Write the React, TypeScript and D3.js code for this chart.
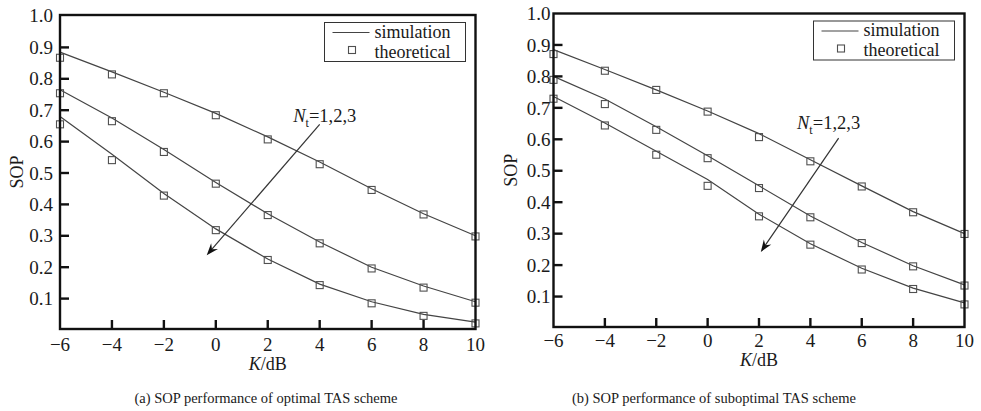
import React, { useEffect, useRef } from 'react';
import * as d3 from 'd3';

// K/dB values shared by every curve
const kValues = [-6, -4, -2, 0, 2, 4, 6, 8, 10];
const xTickValues = [-6, -4, -2, 0, 2, 4, 6, 8, 10];
const yTickValues = [0.1, 0.2, 0.3, 0.4, 0.5, 0.6, 0.7, 0.8, 0.9, 1.0];

// (a) optimal TAS, Nt = 1,2,3
const simA1 = [0.885, 0.822, 0.757, 0.69, 0.615, 0.535, 0.45, 0.37, 0.3];
const theoA1 = [0.867, 0.814, 0.754, 0.684, 0.607, 0.528, 0.446, 0.368, 0.298];
const simA2 = [0.765, 0.675, 0.575, 0.47, 0.37, 0.28, 0.2, 0.14, 0.09];
const theoA2 = [0.754, 0.665, 0.567, 0.466, 0.366, 0.276, 0.196, 0.135, 0.087];
const simA3 = [0.68, 0.56, 0.435, 0.322, 0.226, 0.146, 0.09, 0.05, 0.025];
const theoA3 = [0.655, 0.541, 0.428, 0.318, 0.223, 0.143, 0.085, 0.045, 0.021];

// (b) suboptimal TAS, Nt = 1,2,3
const simB1 = [0.885, 0.822, 0.757, 0.69, 0.618, 0.535, 0.452, 0.37, 0.3];
const theoB1 = [0.871, 0.818, 0.757, 0.688, 0.607, 0.53, 0.45, 0.368, 0.299];
const simB2 = [0.8, 0.728, 0.64, 0.548, 0.452, 0.356, 0.272, 0.198, 0.137];
const theoB2 = [0.789, 0.712, 0.63, 0.54, 0.445, 0.352, 0.27, 0.196, 0.135];
const simB3 = [0.736, 0.652, 0.562, 0.472, 0.362, 0.268, 0.19, 0.127, 0.08];
const theoB3 = [0.729, 0.644, 0.551, 0.452, 0.355, 0.265, 0.186, 0.124, 0.075];

const serif = "'Liberation Serif', 'Times New Roman', serif";

const panels = [
  {
    left: 60,
    right: 475.5,
    top: 15,
    bottom: 329,
    yRange: [330, 16],
    yLabelGap: 7,
    xLabelDy: 22,
    sim: [simA1, simA2, simA3],
    theo: [theoA1, theoA2, theoA3],
    arrowFrom: [4.0, 0.655],
    arrowTo: [-0.35, 0.238],
    note: [2.98, 0.664],
    ylabelX: 23,
    xlabelY: 370,
    caption: '(a) SOP performance of optimal TAS scheme',
    captionX: 266,
  },
  {
    left: 553.5,
    right: 964.5,
    top: 13.5,
    bottom: 327,
    yRange: [328, 13.5],
    yLabelGap: 3,
    xLabelDy: 20,
    sim: [simB1, simB2, simB3],
    theo: [theoB1, theoB2, theoB3],
    arrowFrom: [5.1, 0.604],
    arrowTo: [2.07, 0.242],
    note: [3.48, 0.633],
    ylabelX: 517,
    xlabelY: 366,
    caption: '(b) SOP performance of suboptimal TAS scheme',
    captionX: 714,
  },
];

const addText = (sel, size) =>
  sel
    .append('text')
    .style('font-family', serif)
    .style('font-size', `${size}px`)
    .attr('fill', '#1a1a1a');

const drawPanel = (svg, p) => {
  const x = d3.scaleLinear().domain([-6, 10]).range([p.left, p.right]);
  const y = d3.scaleLinear().domain([0, 1]).range(p.yRange);
  const g = svg.append('g');

  // curves
  const line = d3
    .line()
    .x((d) => x(d[0]))
    .y((d) => y(d[1]));
  p.sim.forEach((series) => {
    g.append('path')
      .attr('d', line(kValues.map((k, i) => [k, series[i]])))
      .attr('fill', 'none')
      .attr('stroke', '#444')
      .attr('stroke-width', 1.2);
  });
  p.theo.forEach((series) => {
    g.selectAll(null)
      .data(kValues.map((k, i) => [k, series[i]]))
      .enter()
      .append('rect')
      .attr('x', (d) => x(d[0]) - 3.5)
      .attr('y', (d) => y(d[1]) - 3.5)
      .attr('width', 7)
      .attr('height', 7)
      .attr('fill', 'none')
      .attr('stroke', '#505050')
      .attr('stroke-width', 1.1);
  });

  // frame: thick left/bottom axes, top/right border
  g.append('rect')
    .attr('x', p.left)
    .attr('y', p.top)
    .attr('width', p.right - p.left)
    .attr('height', p.bottom - p.top)
    .attr('fill', 'none')
    .attr('stroke', '#111')
    .attr('stroke-width', 2.4);

  // inward ticks
  g.selectAll(null)
    .data(xTickValues.slice(1, -1))
    .enter()
    .append('line')
    .attr('x1', (d) => x(d))
    .attr('x2', (d) => x(d))
    .attr('y1', p.bottom)
    .attr('y2', p.bottom - 9)
    .attr('stroke', '#111')
    .attr('stroke-width', 2.4);
  g.selectAll(null)
    .data(yTickValues.slice(0, -1))
    .enter()
    .append('line')
    .attr('x1', p.left)
    .attr('x2', p.left + 9)
    .attr('y1', (d) => y(d))
    .attr('y2', (d) => y(d))
    .attr('stroke', '#111')
    .attr('stroke-width', 2.4);

  // tick labels
  xTickValues.forEach((d) => {
    addText(g, 19)
      .attr('x', x(d))
      .attr('y', p.bottom + p.xLabelDy)
      .attr('text-anchor', 'middle')
      .text(d < 0 ? `\u2212${-d}` : `${d}`);
  });
  yTickValues.forEach((d) => {
    addText(g, 19)
      .attr('x', p.left - p.yLabelGap)
      .attr('y', d === 1 ? p.top : y(d))
      .attr('dy', '0.35em')
      .attr('text-anchor', 'end')
      .text(d3.format('.1f')(d));
  });

  // axis titles
  addText(g, 18)
    .attr('transform', `translate(${p.ylabelX},${(p.top + p.bottom) / 2}) rotate(-90)`)
    .attr('text-anchor', 'middle')
    .text('SOP');
  const xt = addText(g, 18)
    .attr('x', (p.left + p.right) / 2)
    .attr('y', p.xlabelY)
    .attr('text-anchor', 'middle');
  xt.append('tspan').style('font-style', 'italic').text('K');
  xt.append('tspan').text('/dB');

  // legend
  const lx = p.right - 10 - 141;
  const ly = p.top + 7.5;
  const lg = g.append('g').attr('transform', `translate(${lx},${ly})`);
  lg.append('rect')
    .attr('width', 141)
    .attr('height', 39)
    .attr('fill', '#fff')
    .attr('stroke', '#333')
    .attr('stroke-width', 1);
  lg.append('line')
    .attr('x1', 8)
    .attr('x2', 45)
    .attr('y1', 10)
    .attr('y2', 10)
    .attr('stroke', '#444')
    .attr('stroke-width', 1.2);
  lg.append('rect')
    .attr('x', 24)
    .attr('y', 24)
    .attr('width', 7)
    .attr('height', 7)
    .attr('fill', 'none')
    .attr('stroke', '#505050')
    .attr('stroke-width', 1.1);
  addText(lg, 18).attr('x', 50).attr('y', 15).text('simulation');
  addText(lg, 18).attr('x', 50).attr('y', 35).text('theoretical');

  // Nt arrow
  const x1 = x(p.arrowFrom[0]);
  const y1 = y(p.arrowFrom[1]);
  const x2 = x(p.arrowTo[0]);
  const y2 = y(p.arrowTo[1]);
  const ang = Math.atan2(y2 - y1, x2 - x1);
  g.append('line')
    .attr('x1', x1)
    .attr('y1', y1)
    .attr('x2', x2 - Math.cos(ang) * 6)
    .attr('y2', y2 - Math.sin(ang) * 6)
    .attr('stroke', '#333')
    .attr('stroke-width', 1.2);
  const head = [
    [0, 0],
    [-12, -4.5],
    [-8, 0],
    [-12, 4.5],
  ];
  g.append('path')
    .attr('d', d3.line()(head))
    .attr('transform', `translate(${x2},${y2}) rotate(${(ang * 180) / Math.PI})`)
    .attr('fill', '#111');
  const nt = addText(g, 18.5).attr('x', x(p.note[0])).attr('y', y(p.note[1]));
  nt.append('tspan').style('font-style', 'italic').text('N');
  nt.append('tspan').style('font-size', '12px').attr('dy', 5).text('t');
  nt.append('tspan').attr('dy', -5).text('=1,2,3');

  // caption
  addText(svg, 14.5)
    .attr('x', p.captionX)
    .attr('y', 403)
    .attr('text-anchor', 'middle')
    .text(p.caption);
};

export default function App() {
  const svgRef = useRef(null);

  useEffect(() => {
    const svg = d3.select(svgRef.current);
    svg.selectAll('*').remove();
    panels.forEach((p) => drawPanel(svg, p));
  }, []);

  return (
    <div style={{ position: 'absolute', left: 0, top: 0 }}>
      <svg ref={svgRef} width={981} height={411} style={{ display: 'block', background: '#fff' }} />
    </div>
  );
}
